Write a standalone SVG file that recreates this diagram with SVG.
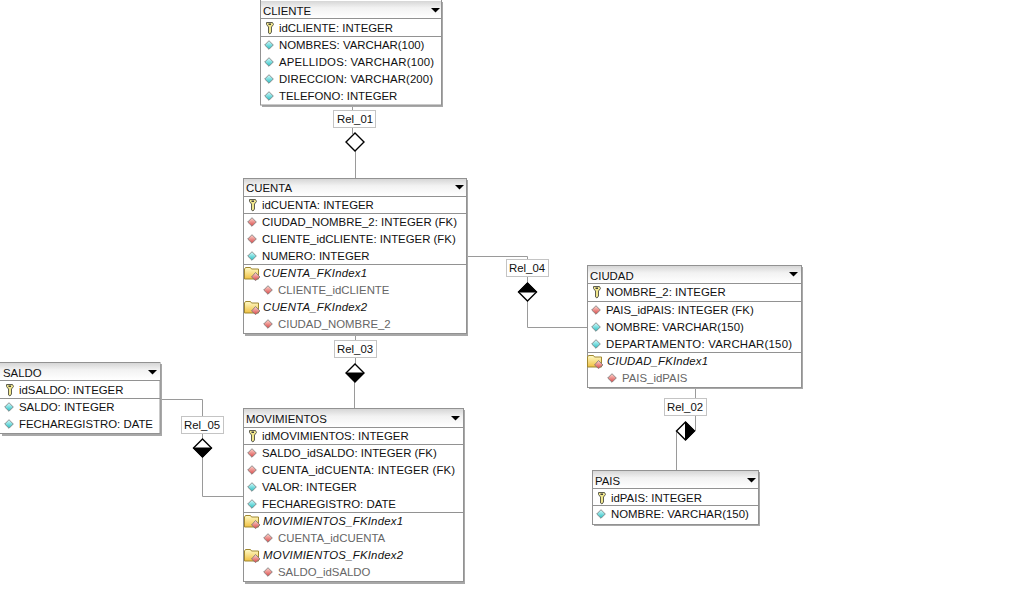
<svg xmlns="http://www.w3.org/2000/svg" width="1013" height="613" viewBox="0 0 1013 613">
<style>
text{font-family:"Liberation Sans",Arial,sans-serif;font-size:11.4px;fill:#111}
.ix{font-style:italic}
.gr{fill:#666}
.box{fill:#fff;stroke:#929292;stroke-width:1}
.shadow{fill:#a8a8a8}
.sep{stroke:#929292;stroke-width:1;fill:none}
.con{stroke:#9a9a9a;stroke-width:1;fill:none}
.lab{fill:#fff;stroke:#c4c4c4;stroke-width:1}
.dia{fill:#fff;stroke:#000;stroke-width:1.4}
</style>
<defs>
<linearGradient id="hd" x1="0" y1="0" x2="0" y2="1"><stop offset="0" stop-color="#d6d6d6"/><stop offset=".4" stop-color="#f2f2f2"/><stop offset="1" stop-color="#fff"/></linearGradient>
<linearGradient id="teal" x1="0" y1="0" x2="0" y2="1"><stop offset="0" stop-color="#d8ffff"/><stop offset="1" stop-color="#25bcc0"/></linearGradient>
<linearGradient id="red" x1="0" y1="0" x2="0" y2="1"><stop offset="0" stop-color="#ffd8d0"/><stop offset="1" stop-color="#d84848"/></linearGradient>
<linearGradient id="fold" x1="0" y1="0" x2="0" y2="1"><stop offset="0" stop-color="#fffbc8"/><stop offset="1" stop-color="#f0c040"/></linearGradient>
<symbol id="k" width="10" height="14" viewBox="0 0 10 14" overflow="visible"><path d="M1.500 1.500h6l1 2-2 2.500v5l-1.500 2-1.500-1v-6l-2-2.500z" fill="#f0e68c" stroke="#5f5f50" stroke-width="1"/><rect x="3.500" y="2.500" width="2.500" height="1.500" fill="#444"/></symbol>
<symbol id="t" width="10" height="10" viewBox="0 0 10 10"><path d="M5 .7 9.300 5 5 9.300 .7 5z" fill="url(#teal)" stroke="#777" stroke-width=".8"/></symbol>
<symbol id="r" width="10" height="10" viewBox="0 0 10 10"><path d="M5 .7 9.300 5 5 9.300 .7 5z" fill="url(#red)" stroke="#777" stroke-width=".8"/></symbol>
<symbol id="f" width="18" height="15" viewBox="0 0 18 15"><path d="M.5 3l1-1.500h5l1 1.500h7v10h-14z" fill="url(#fold)" stroke="#a08830"/><path d="M11.500 6.500 16 11l-4.500 3.500L7.500 11z" fill="url(#red)" stroke="#777" stroke-width=".8"/></symbol>
<path id="arr" d="M0 0h9l-4.500 4.500z" fill="#000"/>
</defs>

<g id="connectors">
<path class="con" d="M352.500 106V134M355.500 150V178"/>
<path class="con" d="M355.500 334V365M354.500 381V408"/>
<path class="con" d="M160 399.500H202.500V440M202.500 456V496.500H243"/>
<path class="con" d="M466 256.500H527.500V284M527.500 300V327.500H587"/>
<path class="con" d="M695.500 388V431M676.500 431V470"/>
<path class="dia" d="M355 133l9 9-9 9-9-9z"/>
<g><path class="dia" d="M355 364l9 9-9 9-9-9z"/><path d="M346 373h18l-9 9z" fill="#000" stroke="#000"/></g>
<g><path class="dia" d="M202.500 439l9 9-9 9-9-9z"/><path d="M193.500 448h18l-9 9z" fill="#000" stroke="#000"/></g>
<g><path class="dia" d="M527.500 283l9 9-9 9-9-9z"/><path d="M518.500 292h18l-9-9z" fill="#000" stroke="#000"/></g>
<g><path class="dia" d="M685.500 422l9 9-9 9-9-9z"/><path d="M685.500 422v18l9-9z" fill="#000" stroke="#000"/></g>
<rect class="lab" x="333.500" y="110.500" width="42" height="17"/><text x="337" y="123">Rel_01</text>
<rect class="lab" x="334.500" y="340.500" width="42" height="17"/><text x="337" y="353">Rel_03</text>
<rect class="lab" x="181.500" y="416.500" width="42" height="17"/><text x="184" y="429">Rel_05</text>
<rect class="lab" x="506.500" y="259.500" width="42" height="17"/><text x="509" y="272">Rel_04</text>
<rect class="lab" x="664.500" y="398.500" width="42" height="17"/><text x="667" y="411">Rel_02</text>
</g>

<g id="CLIENTE">
<rect class="shadow" x="262" y="2" width="181" height="105"/>
<rect class="box" x="260.500" y="-2" width="181" height="107"/>
<rect x="261" y="1" width="180" height="17" fill="url(#hd)"/>
<path class="sep" d="M261 18.500H441M261 36.500H441"/>
<text x="263" y="15">CLIENTE</text><use href="#arr" x="431" y="8"/>
<use href="#k" x="265" y="21"/><text x="279" y="32">idCLIENTE: INTEGER</text>
<use href="#t" x="264" y="40"/><text x="279" y="49">NOMBRES: VARCHAR(100)</text>
<use href="#t" x="264" y="57"/><text x="279" y="66" textLength="155">APELLIDOS: VARCHAR(100)</text>
<use href="#t" x="264" y="74"/><text x="279" y="83" textLength="154">DIRECCION: VARCHAR(200)</text>
<use href="#t" x="264" y="91"/><text x="279" y="100">TELEFONO: INTEGER</text>
</g>

<g id="CUENTA">
<rect class="shadow" x="245" y="180" width="223" height="156"/>
<rect class="box" x="243.500" y="178.500" width="223" height="155"/>
<rect x="244" y="179" width="222" height="17" fill="url(#hd)"/>
<path class="sep" d="M244 196.500H466M244 213.500H466M244 264.500H466"/>
<text x="246" y="192">CUENTA</text><use href="#arr" x="455" y="185"/>
<use href="#k" x="248" y="198"/><text x="262" y="209">idCUENTA: INTEGER</text>
<use href="#r" x="247" y="217"/><text x="262" y="226">CIUDAD_NOMBRE_2: INTEGER (FK)</text>
<use href="#r" x="247" y="234"/><text x="262" y="243">CLIENTE_idCLIENTE: INTEGER (FK)</text>
<use href="#t" x="247" y="251"/><text x="262" y="260">NUMERO: INTEGER</text>
<use href="#f" x="244" y="266"/><text class="ix" x="263" y="277" textLength="104">CUENTA_FKIndex1</text>
<use href="#r" x="263" y="285"/><text class="gr" x="278" y="294">CLIENTE_idCLIENTE</text>
<use href="#f" x="244" y="300"/><text class="ix" x="263" y="311" textLength="104">CUENTA_FKIndex2</text>
<use href="#r" x="263" y="319"/><text class="gr" x="278" y="328">CIUDAD_NOMBRE_2</text>
</g>

<g id="SALDO">
<rect class="shadow" x="2" y="364" width="160" height="72"/>
<rect class="box" x="-1" y="362.500" width="161" height="71"/>
<rect x="0" y="363" width="160" height="17" fill="url(#hd)"/>
<path class="sep" d="M0 380.500H160M0 398.500H160"/>
<text x="3" y="377">SALDO</text><use href="#arr" x="148" y="370"/>
<use href="#k" x="5" y="383"/><text x="19" y="394">idSALDO: INTEGER</text>
<use href="#t" x="4" y="402"/><text x="19" y="411">SALDO: INTEGER</text>
<use href="#t" x="4" y="419"/><text x="19" y="428">FECHAREGISTRO: DATE</text>
</g>

<g id="MOVIMIENTOS">
<rect class="shadow" x="245" y="410" width="220" height="174"/>
<rect class="box" x="243.500" y="408.500" width="220" height="173"/>
<rect x="244" y="409" width="219" height="18" fill="url(#hd)"/>
<path class="sep" d="M244 427.500H463M244 444.500H463M244 512.500H463"/>
<text x="246" y="423">MOVIMIENTOS</text><use href="#arr" x="451" y="416"/>
<use href="#k" x="248" y="429"/><text x="262" y="440">idMOVIMIENTOS: INTEGER</text>
<use href="#r" x="247" y="448"/><text x="262" y="457">SALDO_idSALDO: INTEGER (FK)</text>
<use href="#r" x="247" y="465"/><text x="262" y="474" textLength="193">CUENTA_idCUENTA: INTEGER (FK)</text>
<use href="#t" x="247" y="482"/><text x="262" y="491">VALOR: INTEGER</text>
<use href="#t" x="247" y="499"/><text x="262" y="508">FECHAREGISTRO: DATE</text>
<use href="#f" x="244" y="514"/><text class="ix" x="263" y="525" textLength="140">MOVIMIENTOS_FKIndex1</text>
<use href="#r" x="263" y="533"/><text class="gr" x="278" y="542">CUENTA_idCUENTA</text>
<use href="#f" x="244" y="548"/><text class="ix" x="263" y="559" textLength="140">MOVIMIENTOS_FKIndex2</text>
<use href="#r" x="263" y="567"/><text class="gr" x="278" y="576">SALDO_idSALDO</text>
</g>

<g id="CIUDAD">
<rect class="shadow" x="589" y="267" width="214" height="122"/>
<rect class="box" x="587.500" y="265.500" width="214" height="122"/>
<rect x="588" y="266" width="213" height="17" fill="url(#hd)"/>
<path class="sep" d="M588 283.500H801M588 301.500H801M588 352.500H801"/>
<text x="590" y="280">CIUDAD</text><use href="#arr" x="789" y="272"/>
<use href="#k" x="592" y="285"/><text x="606" y="296">NOMBRE_2: INTEGER</text>
<use href="#r" x="591" y="305"/><text x="606" y="314">PAIS_idPAIS: INTEGER (FK)</text>
<use href="#t" x="591" y="322"/><text x="606" y="331">NOMBRE: VARCHAR(150)</text>
<use href="#t" x="591" y="339"/><text x="606" y="348" textLength="186">DEPARTAMENTO: VARCHAR(150)</text>
<use href="#f" x="587" y="354"/><text class="ix" x="607" y="365" textLength="101">CIUDAD_FKIndex1</text>
<use href="#r" x="607" y="373"/><text class="gr" x="622" y="382">PAIS_idPAIS</text>
</g>

<g id="PAIS">
<rect class="shadow" x="594" y="472" width="166" height="54"/>
<rect class="box" x="592.500" y="470.500" width="166" height="54"/>
<rect x="593" y="471" width="165" height="17" fill="url(#hd)"/>
<path class="sep" d="M593 488.500H758M593 505.500H758"/>
<text x="595" y="485">PAIS</text><use href="#arr" x="747" y="478"/>
<use href="#k" x="597" y="491"/><text x="611" y="502">idPAIS: INTEGER</text>
<use href="#t" x="596" y="509"/><text x="611" y="518">NOMBRE: VARCHAR(150)</text>
</g>
</svg>
